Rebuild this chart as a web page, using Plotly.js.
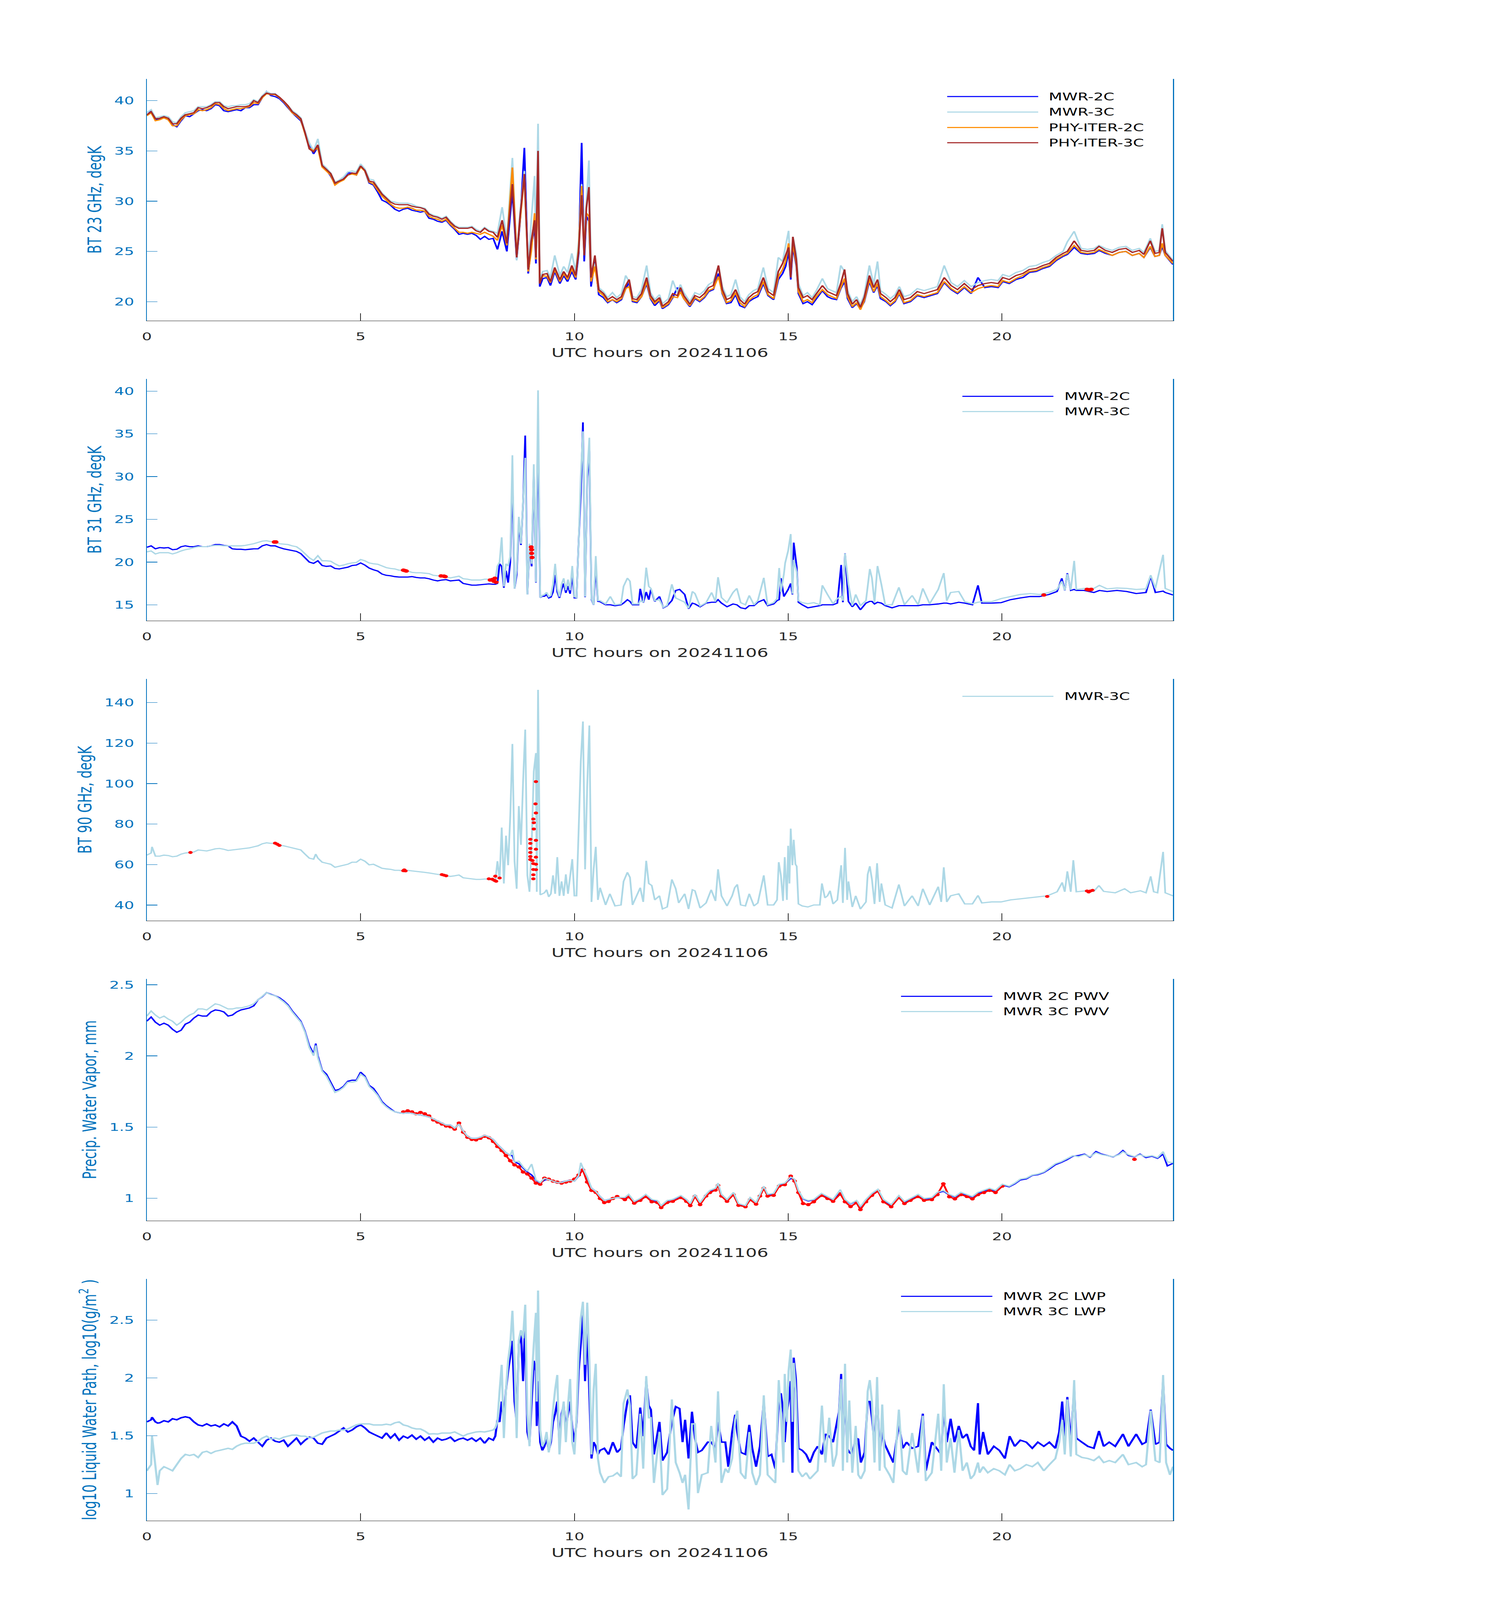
<!DOCTYPE html>
<html>
<head>
<meta charset="utf-8">
<script src="https://cdn.plot.ly/plotly-3.0.1.min.js"></script>
<style>
  html, body { margin: 0; padding: 0; background: #fff; overflow: hidden; }
  /* the browser screen is only 4096px tall, so the 3825x6000 figure is fitted to it vertically */
  #fig { width: 3825px; height: 6000px; transform-origin: 0 0; }
</style>
</head>
<body>
<div id="fig"></div>
<script>
// MWR comparison for 20241106: BT 23/31/90 GHz, PWV and LWP.

// ---- Panel 1: BT 23 GHz ----
const t1 = [
  0,0.1,0.2,0.3,0.4,0.5,0.6,0.7,0.8,0.9,
  1,1.1,1.2,1.3,1.4,1.5,1.6,1.7,1.8,1.9,
  2,2.1,2.2,2.3,2.4,2.5,2.6,2.7,2.8,2.9,
  3,3.1,3.2,3.3,3.4,3.5,3.6,3.7,3.8,3.9,
  4,4.1,4.2,4.3,4.4,4.5,4.6,4.7,4.8,4.9,
  5,5.1,5.2,5.3,5.4,5.5,5.6,5.7,5.8,5.9,
  6,6.1,6.2,6.3,6.4,6.5,6.6,6.7,6.8,6.9,
  7,7.1,7.2,7.3,7.4,7.5,7.6,7.7,7.8,7.9,
  8,8.1,8.2,
  8.31,8.42,8.55,8.65,8.73,8.83,8.92,8.99,9.07,9.1,
  9.15,9.19,9.26,9.36,9.44,9.54,9.66,9.75,9.84,9.94,
  10.03,10.1,10.17,10.23,10.28,10.34,10.39,10.48,10.57,10.68,
  10.78,10.89,10.99,11.1,11.2,11.28,11.36,11.46,11.57,11.69,
  11.78,11.88,11.99,12.06,12.2,12.3,12.41,12.48,12.56,12.7,
  12.82,12.93,13.04,13.14,13.25,13.37,13.46,13.56,13.66,13.77,
  13.87,13.98,14.08,14.19,14.29,14.42,14.53,14.66,14.77,14.87,
  14.94,15.01,15.06,15.11,15.19,15.24,15.35,15.45,15.56,15.66,
  15.8,15.92,16.02,16.13,16.23,16.32,16.39,16.5,16.6,16.69,
  16.78,16.9,17,17.09,17.16,17.29,17.39,17.5,17.6,17.71,
  17.86,18.02,18.18,18.33,18.49,18.65,18.81,18.96,19.12,19.28,
  19.44,19.6,19.75,19.91,20.02,20.17,20.33,20.49,20.64,20.8,
  20.96,21.11,21.27,21.43,21.53,21.69,21.85,22,22.16,22.27,
  22.42,22.58,22.74,22.9,23.05,23.21,23.32,23.47,23.58,23.68,
  23.75,23.82,24
];
const mwr2c_23 = [
  38.5,39.0,38.1,38.2,38.3,38.1,37.6,37.4,38.0,38.5,
  38.4,38.7,39.0,39.1,39.0,39.2,39.6,39.5,39.0,38.9,
  39.0,39.1,39.0,39.3,39.3,39.6,39.6,40.3,40.9,40.5,
  40.4,40.2,39.8,39.3,38.8,38.4,38.0,36.9,35.6,34.7,
  35.4,33.5,33.1,32.5,31.7,31.9,32.2,32.8,32.8,32.6,
  33.6,33.0,31.8,31.6,30.9,30.1,29.9,29.6,29.2,29.0,
  29.2,29.3,29.1,29.0,28.9,29.0,28.3,28.2,28.0,27.9,
  28.1,27.6,27.2,26.7,26.8,26.7,26.8,26.6,26.2,26.5,
  26.2,26.3,25.2,
  27.0,25.0,31.0,24.2,28.0,35.3,22.8,25.5,27.5,23.8,
  34.0,21.5,22.3,22.4,21.6,23.0,21.8,22.6,22.0,23.0,
  22.2,24.8,35.8,24.0,28.5,28.0,21.5,24.2,20.7,20.4,
  19.9,20.2,19.9,20.2,21.3,21.9,20.0,19.9,20.5,21.8,
  20.3,19.6,20.1,19.3,19.7,20.4,21.4,21.0,20.3,19.5,
  20.3,20.0,20.4,21.0,21.2,22.8,20.8,19.8,19.9,20.7,
  19.6,19.4,20.0,20.3,20.5,21.8,20.6,20.2,22.2,22.8,
  23.5,25.0,22.2,25.5,23.6,20.8,19.8,20.0,19.7,20.3,
  21.1,20.5,20.3,20.2,21.3,22.0,20.3,19.4,19.8,19.3,
  20.0,22.0,20.9,21.6,20.3,20.0,19.6,20.0,20.8,19.8,
  20.0,20.6,20.4,20.6,20.8,21.9,21.2,20.8,21.4,20.8,
  22.4,21.4,21.5,21.4,22.0,21.8,22.2,22.4,22.9,23.0,
  23.3,23.5,24.1,24.5,24.7,25.4,24.8,24.7,24.8,25.1,
  24.8,24.6,24.9,25.0,24.6,24.8,24.4,25.4,24.5,24.6,
  25.5,24.6,23.7
];
const mwr3c_23 = [
  38.8,39.1,38.3,38.4,38.5,38.4,37.9,37.8,38.4,38.8,
  38.9,39.0,39.4,39.4,39.4,39.6,39.9,39.9,39.5,39.4,
  39.5,39.5,39.6,39.6,39.7,40.1,39.9,40.5,40.9,40.7,
  40.7,40.3,39.9,39.5,39.0,38.7,38.3,36.9,35.8,35.0,
  36.2,33.7,33.3,32.8,31.9,32.1,32.4,32.9,33.0,32.9,
  33.7,33.2,32.2,32.1,31.4,30.8,30.4,30.0,29.9,29.8,
  29.8,29.8,29.7,29.5,29.4,29.3,28.8,28.6,28.5,28.3,
  28.5,28.0,27.6,27.4,27.4,27.4,27.5,27.2,27.0,27.4,
  27.1,27.0,26.8,
  29.4,26.2,34.3,24.1,28.9,33.0,23.4,28.0,32.5,24.8,
  37.7,22.2,23.0,23.1,22.4,24.6,22.6,23.5,22.9,24.8,
  23.0,26.0,31.7,25.0,29.8,34.05,22.6,23.8,21.4,21.0,
  20.4,20.9,20.4,20.8,22.6,22.0,20.5,20.4,21.2,23.6,
  20.9,20.2,20.7,19.8,20.3,22.1,20.9,21.7,20.9,20.0,
  20.9,20.7,21.1,21.7,22.0,23.5,21.5,20.5,20.7,22.2,
  20.5,20.0,20.7,21.1,21.3,23.4,21.3,20.9,24.4,24.0,
  25.6,27.05,23.0,26.45,24.8,21.8,20.6,20.9,20.4,21.1,
  22.3,21.3,21.1,20.9,23.6,23.0,21.1,20.0,20.5,19.7,
  20.7,23.6,21.7,24.0,21.1,20.7,20.3,20.7,21.5,20.5,
  20.7,21.3,21.1,21.3,21.5,23.6,21.9,21.5,22.1,21.5,
  21.9,22.1,22.2,22.1,22.7,22.5,22.9,23.1,23.5,23.6,
  23.9,24.1,24.6,25.0,25.95,27.0,25.3,25.2,25.3,25.6,
  25.3,25.1,25.4,25.5,25.1,25.3,24.9,26.3,25.0,25.1,
  27.7,25.1,24.1
];
const phy2c_23 = [
  38.5,38.8,38.0,38.1,38.3,38.1,37.5,37.5,38.1,38.5,
  38.6,38.7,39.1,39.0,39.1,39.3,39.7,39.6,39.2,39.0,
  39.1,39.2,39.2,39.3,39.4,39.8,39.7,40.3,40.7,40.6,
  40.6,40.3,39.9,39.4,38.8,38.5,38.1,36.7,35.3,35.0,
  35.3,33.4,33.0,32.6,31.6,31.9,32.1,32.6,32.7,32.6,
  33.4,33.0,31.9,31.7,31.1,30.5,30.1,29.7,29.4,29.3,
  29.3,29.4,29.3,29.1,29.1,29.0,28.5,28.3,28.2,28.0,
  28.2,27.7,27.3,26.9,26.9,26.8,26.9,26.8,26.7,26.9,
  26.7,26.5,26.1,
  27.6,25.6,33.35,24.6,28.2,32.5,23.0,25.0,28.8,24.2,
  32.0,21.9,22.6,22.5,21.9,23.2,22.0,22.8,22.2,23.3,
  22.4,25.3,31.5,24.9,28.8,28.5,22.0,23.5,21.0,20.6,
  20.0,20.2,20.0,20.3,21.3,21.5,20.1,20.0,20.5,22.0,
  20.4,19.8,20.2,19.4,19.8,20.5,20.4,21.0,20.3,19.6,
  20.4,20.1,20.5,21.1,21.3,22.5,20.9,19.9,20.1,20.9,
  19.9,19.5,20.1,20.5,20.7,22.0,20.7,20.3,22.5,23.2,
  24.0,25.8,22.8,25.8,23.8,21.0,20.0,20.2,19.9,20.5,
  21.2,20.7,20.5,20.3,21.4,22.3,20.5,19.5,19.9,19.2,
  20.1,22.2,21.0,21.8,20.5,20.1,19.7,20.1,20.9,19.9,
  20.1,20.7,20.5,20.7,20.9,22.0,21.3,20.9,21.5,20.9,
  21.3,21.5,21.6,21.5,22.1,21.9,22.3,22.6,23.0,23.1,
  23.4,23.6,24.2,24.6,24.8,25.6,24.9,24.8,24.9,25.2,
  24.9,24.6,24.9,25.0,24.6,24.8,24.4,25.5,24.5,24.6,
  25.8,24.6,23.8
];
const phy3c_23 = [
  38.6,38.9,38.2,38.25,38.4,38.25,37.7,37.7,38.25,38.6,
  38.7,38.8,39.3,39.2,39.3,39.5,39.8,39.8,39.4,39.2,
  39.3,39.4,39.4,39.4,39.5,40.0,39.8,40.4,40.75,40.65,
  40.65,40.35,39.95,39.5,38.9,38.6,38.2,36.8,35.2,34.9,
  35.6,33.55,33.15,32.75,31.8,32.0,32.2,32.6,32.8,32.75,
  33.5,33.05,32.0,31.9,31.3,30.7,30.3,29.9,29.7,29.65,
  29.65,29.65,29.5,29.4,29.35,29.2,28.7,28.5,28.4,28.2,
  28.4,27.9,27.5,27.3,27.3,27.3,27.4,27.05,26.9,27.3,
  27.0,26.9,26.4,
  28.1,25.8,31.7,24.4,28.5,32.7,23.2,26.0,28.1,24.4,
  35.0,21.8,22.7,22.8,22.0,23.4,22.2,23.0,22.4,23.6,
  22.6,25.0,30.6,24.6,29.3,31.4,22.4,24.6,21.2,20.8,
  20.2,20.5,20.2,20.5,21.6,22.2,20.3,20.2,20.8,22.4,
  20.6,20.0,20.4,19.55,20.0,20.8,20.6,21.4,20.6,19.75,
  20.6,20.4,20.8,21.4,21.6,23.6,21.2,20.2,20.4,21.2,
  20.2,19.75,20.4,20.8,21.0,22.4,21.0,20.6,23.0,23.8,
  24.6,25.4,22.4,26.45,24.2,21.4,20.4,20.6,20.2,20.8,
  21.6,21.0,20.8,20.6,21.8,23.2,20.8,19.75,20.2,19.45,
  20.4,22.6,21.4,22.2,20.8,20.4,20.0,20.4,21.2,20.2,
  20.4,21.0,20.8,21.0,21.2,22.4,21.6,21.2,21.8,21.2,
  21.6,21.8,21.9,21.8,22.4,22.2,22.6,22.8,23.2,23.3,
  23.6,23.8,24.4,24.8,25.0,26.05,25.1,25.0,25.1,25.5,
  25.1,24.9,25.2,25.3,24.9,25.1,24.7,26.05,24.8,24.9,
  27.3,24.9,24.0
];

// ---- Panel 2: BT 31 GHz ----
const t2 = [
  0,0.1,0.2,0.3,0.4,0.5,0.6,0.7,0.8,0.9,
  1,1.1,1.2,1.3,1.4,1.5,1.6,1.7,1.8,1.9,
  2,2.1,2.2,2.3,2.4,2.5,2.6,2.7,2.8,2.9,
  3,3.1,3.2,3.3,3.4,3.5,3.6,3.7,3.8,3.9,
  4,4.1,4.2,4.3,4.4,4.5,4.6,4.7,4.8,4.9,
  5,5.1,5.2,5.3,5.4,5.5,5.6,5.7,5.8,5.9,
  6,6.1,6.2,6.3,6.4,6.5,6.6,6.7,6.8,6.9,
  7,7.1,7.2,7.3,7.4,7.5,7.6,7.7,7.8,7.9,
  8,8.1,
  8.15,8.2,8.25,8.3,8.35,8.4,8.45,8.5,8.55,8.6,
  8.65,8.7,8.75,8.8,8.85,8.9,8.95,9,9.05,9.1,
  9.15,9.2,9.25,9.3,9.35,9.4,9.45,9.5,9.55,9.6,
  9.65,9.7,9.75,9.8,9.85,9.9,9.95,10,10.05,10.1,
  10.15,10.2,10.25,10.3,10.35,10.4,10.45,10.5,10.55,
  10.6,10.73,10.84,10.95,11.09,11.15,11.24,11.3,11.36,11.5,
  11.54,11.61,11.68,11.74,11.79,11.88,11.99,12.08,12.17,12.28,
  12.37,12.46,12.58,12.67,12.76,12.82,12.94,13.08,13.21,13.3,
  13.36,13.44,13.57,13.71,13.8,13.89,14,14.09,14.2,14.29,
  14.43,14.52,14.66,14.74,14.79,14.83,14.9,14.93,15,15.06,
  15.1,15.13,15.2,15.24,15.33,15.46,15.6,15.74,15.8,15.92,
  16.05,16.15,16.24,16.28,16.33,16.41,16.5,16.58,16.69,16.82,
  16.91,16.96,17.02,17.09,17.18,17.27,17.43,17.59,17.72,17.9,
  18.04,18.15,18.31,18.51,18.64,18.71,18.8,18.99,19.13,19.31,
  19.44,19.53,19.76,19.98,20.2,20.43,20.66,20.88,21.1,21.29,
  21.4,21.47,21.53,21.61,21.69,21.74,21.92,22.15,22.28,22.46,
  22.69,22.92,23.14,23.37,23.48,23.59,23.77,23.82,24
];
const mwr2c_31 = [
  21.73,21.9,21.55,21.7,21.65,21.7,21.45,21.5,21.8,21.9,
  21.8,21.8,21.9,21.8,21.8,21.9,22.05,22.05,21.95,21.9,
  21.55,21.5,21.5,21.45,21.5,21.55,21.55,21.9,22.05,21.9,
  21.9,21.7,21.55,21.45,21.35,21.25,21.0,20.5,20.0,19.85,
  20.15,19.6,19.5,19.55,19.25,19.2,19.3,19.4,19.6,19.65,
  19.9,19.65,19.3,19.1,18.95,18.6,18.45,18.4,18.3,18.25,
  18.25,18.25,18.3,18.2,18.15,18.15,18.05,17.9,17.8,17.9,
  17.95,17.8,17.85,17.9,17.5,17.4,17.3,17.3,17.35,17.4,
  17.45,17.4,
  17.4,17.5,19.8,19.5,17.0,19.0,17.6,20.0,30.0,16.9,
  18.5,24.5,22.0,27.0,34.8,16.2,21.8,19.5,30.5,17.6,
  36.0,15.85,16.0,16.0,16.2,15.8,15.9,16.5,18.5,16.5,
  15.8,16.8,17.5,16.4,17.2,16.3,18.5,15.8,15.8,22.5,
  28.0,36.35,15.9,29.8,33.0,15.6,15.0,19.5,15.4,
  15.37,15.0,15.0,14.89,15.0,15.2,15.6,15.4,15.0,15.0,
  16.87,15.25,16.5,15.6,16.8,15.4,15.97,14.65,14.89,15.5,
  16.68,16.8,16.21,14.54,15.2,15.1,14.77,15.2,15.3,15.3,
  15.6,15.2,14.77,15.1,15.0,14.65,14.54,14.9,14.9,15.3,
  15.6,14.9,15.1,15.5,15.6,18.12,15.97,16.2,16.8,17.5,
  16.21,22.28,19.42,15.3,15.0,14.65,14.77,14.9,15.0,15.0,
  15.0,15.2,19.66,15.3,21.02,15.4,14.77,15.2,14.42,15.2,
  15.4,15.4,15.1,15.3,15.2,14.9,14.65,14.9,14.9,14.9,
  14.9,15.0,15.0,15.1,15.2,15.2,15.1,15.3,15.2,15.0,
  17.28,15.2,15.2,15.25,15.6,15.8,15.97,15.97,16.21,16.56,
  18.1,16.68,18.7,16.68,16.8,16.68,16.68,16.44,16.68,16.56,
  16.68,16.56,16.32,16.44,18.35,16.44,16.6,16.44,16.15
];
const mwr3c_31 = [
  21.2,21.3,20.95,21.1,21.1,21.1,20.95,21.1,21.3,21.45,
  21.55,21.7,21.8,21.8,21.8,21.9,21.95,21.95,21.9,21.9,
  21.9,21.9,21.9,21.95,22.05,22.15,22.3,22.45,22.5,22.4,
  22.35,22.15,22.1,22.05,21.9,21.8,21.45,20.95,20.5,20.2,
  20.75,20.15,20.15,20.1,19.8,19.55,19.65,19.8,19.9,19.95,
  20.3,20.15,19.9,19.8,19.75,19.55,19.35,19.25,19.2,19.05,
  19.05,18.95,18.8,18.75,18.75,18.7,18.65,18.45,18.4,18.35,
  18.25,18.15,18.25,18.35,18.05,18.0,17.9,17.9,17.9,18.0,
  18.0,18.0,
  17.88,19.54,20.0,22.9,17.15,19.8,19.55,20.7,32.5,16.9,
  19.05,25.3,22.15,27.4,32.2,16.2,22.15,19.8,31.45,17.65,
  40.1,15.85,16.1,16.2,16.45,15.95,16.1,17.4,19.8,16.9,
  15.95,17.4,18.1,16.7,17.95,16.7,19.55,15.95,15.85,22.4,
  30.05,35.3,15.95,30.25,34.55,15.7,15.0,20.7,15.5,
  15.49,15.1,15.97,15.0,15.1,17.16,18.12,17.76,15.1,15.1,
  15.5,15.3,19.35,17.16,16.92,15.49,15.6,14.7,14.95,17.4,
  15.8,15.6,15.3,14.6,16.56,16.32,14.85,15.25,16.44,15.37,
  18.23,15.85,15.25,16.44,16.92,15.25,15.0,16.09,15.0,15.49,
  18.16,15.0,15.25,15.73,19.31,16.5,18.59,19.9,21.33,23.28,
  16.3,20.26,18.83,15.49,15.25,15.13,15.25,15.01,17.28,16.21,
  15.13,15.73,16.0,15.49,21.0,17.4,14.9,16.21,14.9,15.49,
  19.19,18.12,15.25,19.54,17.4,15.01,15.0,17.04,15.01,16.09,
  15.01,16.92,15.13,16.8,18.71,15.49,16.44,16.56,15.37,15.13,
  15.3,15.37,15.37,15.73,15.97,16.21,16.32,16.21,16.44,16.8,
  17.76,16.7,18.59,16.75,20.14,16.8,16.92,16.92,17.28,16.87,
  16.97,16.92,16.8,16.87,18.47,16.92,20.85,16.92,16.55
];
const flag31_t = [2.98,3.02,6.0,6.04,6.07,6.88,6.95,6.98,8.03,8.08,8.12,8.14,8.17,8.99,9.0,9.0,9.01,20.98,21.99,22.04,22.09];
const flag31_v = [22.35,22.35,19.05,19.0,18.95,18.38,18.35,18.3,17.9,17.95,17.75,18.1,17.65,21.76,21.45,21.02,20.54,16.15,16.8,16.75,16.8];

// ---- Panel 3: BT 90 GHz ----
const t3 = [
  0,0.1,0.12,0.2,0.3,0.4,0.5,0.6,0.7,0.8,0.9,
  1,1.1,1.2,1.3,1.4,1.5,1.6,1.7,1.8,1.9,
  2,2.1,2.2,2.3,2.4,2.5,2.6,2.7,2.8,2.9,
  3,3.1,3.2,3.3,3.4,3.5,3.6,3.7,3.8,3.9,3.95,
  4,4.1,4.2,4.3,4.4,4.5,4.6,4.7,4.8,4.9,
  5,5.1,5.2,5.3,5.4,5.5,5.6,5.7,5.8,5.9,
  6,6.1,6.2,6.3,6.4,6.5,6.6,6.7,6.8,6.9,
  7,7.1,7.2,7.3,7.4,7.5,7.6,7.7,7.8,7.9,
  8,8.1,
  8.15,8.2,8.25,8.3,8.35,8.4,8.45,8.5,8.55,8.6,
  8.65,8.7,8.75,8.8,8.85,8.9,8.95,9,9.05,9.1,
  9.12,
  9.15,9.2,9.25,9.3,9.35,9.4,9.45,9.5,9.55,9.6,
  9.65,9.7,9.75,9.8,9.85,9.9,9.95,10,10.05,10.1,
  10.15,10.2,10.25,10.3,10.35,10.4,10.45,10.5,10.55,
  10.6,10.73,10.83,10.95,11.09,11.15,11.24,11.3,11.36,11.54,
  11.61,11.68,11.74,11.81,11.88,11.99,12.06,12.17,12.28,12.37,
  12.44,12.58,12.67,12.76,12.82,12.94,13.08,13.2,13.3,13.36,
  13.44,13.57,13.69,13.75,13.81,13.89,14,14.09,14.2,14.29,
  14.43,14.52,14.66,14.74,14.78,14.83,14.88,14.92,14.97,15,
  15.03,15.06,15.1,15.13,15.17,15.2,15.24,15.33,15.46,15.6,
  15.74,15.79,15.86,15.92,15.98,16.05,16.15,16.24,16.28,16.33,
  16.38,16.41,16.5,16.58,16.69,16.82,16.86,16.91,16.96,17.02,
  17.08,17.14,17.18,17.27,17.43,17.59,17.72,17.9,18.04,18.15,
  18.31,18.51,18.58,18.64,18.71,18.8,18.99,19.13,19.31,19.44,
  19.53,19.76,19.98,20.2,20.43,20.66,20.88,21.06,21.29,21.41,
  21.47,21.53,21.61,21.67,21.74,21.97,22.15,22.27,22.38,22.65,
  22.87,23.01,23.24,23.37,23.48,23.55,23.64,23.77,23.82,24
];
const mwr3c_90 = [
  64.7,65.75,68.8,64.2,64.2,64.7,64.5,63.9,64.2,65.2,65.75,
  66.0,66.25,67.25,67.0,66.75,67.25,67.8,68.0,67.6,67.0,
  67.25,67.6,67.8,68.0,68.3,68.8,69.3,70.3,70.8,70.5,
  70.5,69.6,69.3,68.8,68.3,67.8,67.25,65.2,63.2,62.7,65.2,
  63.2,61.2,60.7,60.2,58.7,59.2,59.7,60.2,61.2,61.2,
  62.7,61.7,59.9,60.2,59.2,58.2,57.9,57.7,57.2,57.2,
  56.9,57.2,56.9,56.7,56.5,56.2,55.9,55.5,55.2,54.9,
  54.5,54.2,54.5,54.9,53.5,53.2,52.9,52.7,52.7,52.9,
  52.9,52.2,
  51.9,61.7,52.7,78.3,50.7,74.3,59.7,83.9,119.6,61.7,
  48.1,88.9,69.8,101.0,126.7,54.7,46.6,69.8,106.0,115.1,
  46.6,
  146.3,45.1,45.6,46.1,47.6,44.1,45.6,54.7,45.6,63.7,
  44.6,51.7,44.6,55.2,45.6,53.7,62.7,44.6,44.6,77.3,
  111.1,130.7,57.7,99.0,128.7,41.6,57.7,68.8,42.6,
  48.6,40.1,45.6,39.6,40.1,51.7,56.2,53.7,40.1,48.6,
  41.6,61.9,50.7,49.7,42.6,44.6,38.1,39.1,52.7,48.1,
  41.1,45.6,38.1,47.6,47.1,38.6,41.1,47.6,42.1,57.7,
  44.6,39.6,44.6,48.6,50.2,40.1,39.6,45.6,39.6,41.1,
  54.7,40.1,40.1,42.6,61.2,54.7,42.1,63.7,42.6,69.3,
  50.7,77.8,59.7,72.3,60.2,59.2,40.6,39.6,39.1,40.1,
  40.1,50.7,43.6,44.6,47.1,40.6,42.6,59.7,41.1,68.3,
  42.6,51.7,39.1,44.6,38.1,41.6,55.2,59.2,52.7,40.6,
  60.7,41.6,50.7,40.1,38.6,50.2,39.6,44.6,39.6,48.1,
  40.1,49.1,41.6,58.7,41.6,44.6,45.6,40.6,40.6,44.8,
  41.1,41.6,41.6,42.6,43.1,43.6,44.1,44.6,46.6,51.2,
  46.6,56.7,46.6,62.2,46.6,47.1,46.8,49.7,46.8,46.1,
  48.1,46.1,47.1,46.1,54.2,46.6,46.1,66.3,46.1,44.6
];
const flag90_t = [1.02,3.0,3.05,3.1,6.0,6.02,6.05,6.9,6.95,7.0,8.0,8.08,8.13,8.17,8.15,8.25,
  8.97,8.97,8.97,8.97,8.97,8.97,9.02,9.04,9.04,9.04,9.04,9.1,9.09,9.1,9.04,9.05,9.05,9.1,9.1,9.1,9.1,9.1,
  21.06,21.99,22.03,22.07,22.12];
const flag90_v = [66.0,70.6,70.1,69.5,57.0,57.4,56.9,55.1,54.8,54.5,53.0,52.8,52.2,51.8,54.3,53.4,
  72.5,70.5,68.0,66.0,64.0,62.5,62.0,60.5,57.6,55.0,53.0,101.0,90.0,85.5,82.5,80.7,77.6,72.0,67.6,63.7,60.2,57.5,
  44.3,47.0,46.5,47.0,47.3];

// ---- Panel 4: precipitable water vapour ----
const t4 = [
  0,0.1,0.2,0.3,0.4,0.5,0.6,0.7,0.8,0.9,
  1,1.1,1.2,1.3,1.4,1.5,1.6,1.7,1.8,1.9,
  2,2.1,2.2,2.3,2.4,2.5,2.6,2.7,2.8,2.9,
  3,3.1,3.2,3.3,3.4,3.5,3.6,3.7,3.8,3.9,3.95,
  4,4.1,4.2,4.3,4.4,4.5,4.6,4.7,4.8,4.9,
  5,5.1,5.2,5.3,5.4,5.5,5.6,5.7,5.8,5.9,
  6,6.1,6.2,6.3,6.4,6.5,6.6,6.7,6.8,6.9,
  7,7.1,7.2,7.3,7.4,7.5,7.6,7.7,7.8,7.9,
  8,8.1,8.2,8.3,8.4,8.5,8.55,
  8.6,8.7,8.8,8.9,
  9,9.1,9.2,9.3,9.4,9.5,9.6,9.7,9.8,9.9,
  10,10.1,10.15,
  10.2,10.3,10.4,10.5,10.6,10.7,10.8,10.9,11,
  11.18,11.27,11.4,11.54,11.67,11.81,11.94,12.03,12.17,12.3,
  12.49,12.62,12.71,12.82,12.94,13.08,13.17,13.3,13.36,13.44,
  13.57,13.72,13.84,14,14.11,14.25,14.34,14.43,14.52,14.66,
  14.79,14.92,15.06,15.15,15.24,15.35,15.47,15.6,15.78,15.92,
  16.05,16.22,16.33,16.46,16.6,16.69,16.82,16.96,17.1,17.23,
  17.41,17.59,17.72,17.86,18.04,18.18,18.36,18.49,18.63,18.77,
  18.9,19.04,19.18,19.31,19.44,19.58,19.71,19.85,20.01,20.17,
  20.3,20.43,20.57,20.71,20.84,20.98,21.11,21.25,21.38,21.52,
  21.66,21.79,21.93,22.06,22.2,22.33,22.47,22.6,22.74,22.83,
  22.96,23.1,23.23,23.37,23.51,23.64,23.77,23.87,24
];
const pwv2c = [
  2.244,2.273,2.237,2.216,2.23,2.216,2.187,2.166,2.18,2.223,
  2.237,2.266,2.287,2.28,2.28,2.309,2.323,2.319,2.309,2.28,
  2.287,2.309,2.323,2.33,2.337,2.352,2.395,2.416,2.445,2.433,
  2.423,2.409,2.387,2.359,2.316,2.28,2.244,2.173,2.072,2.015,2.087,
  2.001,1.90,1.872,1.815,1.757,1.765,1.786,1.822,1.829,1.829,
  1.886,1.858,1.793,1.772,1.729,1.679,1.65,1.628,1.607,1.60,
  1.597,1.60,1.597,1.588,1.585,1.578,1.571,1.557,1.543,1.528,
  1.514,1.514,1.492,1.521,1.471,1.435,1.42,1.42,1.428,1.442,
  1.431,1.413,1.378,1.349,1.32,1.30,1.30,
  1.256,1.242,1.213,1.184,
  1.163,1.127,1.106,1.127,1.134,1.12,1.106,1.113,1.12,1.127,
  1.12,1.156,1.18,
  1.213,1.141,1.07,1.048,1.012,0.984,0.991,0.998,1.005,
  1.0,1.02,0.975,0.995,1.02,0.985,0.98,0.945,0.98,0.99,
  1.015,0.99,0.96,1.025,0.965,1.025,1.05,1.065,1.1,1.02,
  0.985,1.035,0.955,0.945,1.0,0.965,1.02,1.08,1.022,1.03,
  1.092,1.1,1.14,1.128,1.05,0.995,0.98,0.988,1.03,1.008,
  0.988,1.04,0.988,0.96,0.98,0.938,0.988,1.03,1.058,0.988,
  0.95,1.015,0.973,0.994,1.022,0.994,1.0,1.035,1.05,1.022,
  1.008,1.035,1.022,1.008,1.035,1.05,1.065,1.05,1.092,1.08,
  1.1,1.128,1.135,1.16,1.165,1.18,1.205,1.235,1.25,1.27,
  1.295,1.3,1.31,1.288,1.328,1.31,1.3,1.29,1.31,1.335,
  1.3,1.29,1.31,1.285,1.295,1.28,1.31,1.227,1.245
];
const pwv3c = [
  2.28,2.316,2.287,2.266,2.28,2.259,2.244,2.216,2.237,2.266,
  2.287,2.30,2.33,2.33,2.323,2.345,2.366,2.359,2.345,2.33,
  2.33,2.337,2.337,2.345,2.352,2.366,2.395,2.419,2.445,2.43,
  2.423,2.402,2.38,2.352,2.309,2.273,2.237,2.166,2.058,2.001,2.073,
  1.987,1.893,1.858,1.80,1.743,1.757,1.779,1.815,1.815,1.822,
  1.872,1.85,1.786,1.757,1.722,1.671,1.643,1.621,1.607,1.60,
  1.597,1.60,1.597,1.588,1.585,1.578,1.571,1.557,1.543,1.528,
  1.514,1.514,1.492,1.521,1.471,1.435,1.42,1.42,1.428,1.442,
  1.431,1.413,1.378,1.349,1.32,1.30,1.34,
  1.256,1.26,1.22,1.19,
  1.24,1.13,1.11,1.14,1.13,1.12,1.11,1.11,1.12,1.125,
  1.12,1.16,1.249,
  1.213,1.15,1.07,1.048,1.012,0.984,0.991,0.998,1.005,
  1.005,1.027,0.977,0.998,1.027,0.991,0.984,0.948,0.984,0.991,
  1.019,0.991,0.962,1.027,0.969,1.027,1.055,1.07,1.106,1.027,
  0.991,1.041,0.962,0.948,1.005,0.969,1.027,1.084,1.027,1.034,
  1.098,1.106,1.148,1.134,1.055,0.998,0.984,0.991,1.034,1.012,
  0.991,1.06,0.991,0.962,0.984,0.941,0.991,1.034,1.063,0.991,
  0.955,1.019,0.977,0.998,1.027,0.998,1.005,1.041,1.055,1.027,
  1.012,1.041,1.027,1.012,1.041,1.055,1.07,1.055,1.098,1.084,
  1.106,1.134,1.141,1.163,1.17,1.184,1.213,1.242,1.256,1.277,
  1.299,1.292,1.306,1.292,1.32,1.306,1.299,1.292,1.306,1.327,
  1.306,1.292,1.306,1.292,1.299,1.285,1.327,1.256,1.249
];
const flagPwv_t = [
  6,6.1,6.2,6.3,6.4,6.5,6.6,6.7,6.8,6.9,
  7,7.1,7.2,7.3,7.4,7.5,7.6,7.7,7.8,7.9,
  8,8.1,8.2,8.3,8.4,8.5,8.6,8.7,8.8,8.9,
  9,9.1,9.2,9.3,9.4,9.5,9.6,9.7,9.8,9.9,
  10,10.1,10.2,10.3,10.4,10.5,10.6,10.7,10.8,10.9,11,
  11.18,11.27,11.4,11.54,11.67,11.81,11.94,12.03,12.17,12.3,
  12.49,12.62,12.71,12.82,12.94,13.08,13.17,13.3,13.36,13.44,
  13.57,13.72,13.84,14,14.11,14.25,14.34,14.43,14.52,14.66,
  14.79,14.92,15.06,15.15,15.24,15.35,15.47,15.6,15.78,15.92,
  16.05,16.22,16.33,16.46,16.6,16.69,16.82,16.96,17.1,17.23,
  17.41,17.59,17.72,17.86,18.04,18.18,18.36,18.49,18.63,18.77,
  18.9,19.04,19.18,19.31,19.44,19.58,19.71,19.85,20.01,
  null,23.1
];
const flagPwv_v = [
  1.607,1.614,1.607,1.593,1.603,1.593,1.578,1.55,1.535,1.521,
  1.507,1.502,1.485,1.528,1.464,1.428,1.413,1.41,1.421,1.435,
  1.425,1.399,1.363,1.335,1.299,1.263,1.234,1.22,1.184,1.17,
  1.141,1.106,1.098,1.141,1.134,1.12,1.113,1.106,1.113,1.12,
  1.134,1.163,1.198,1.113,1.055,1.041,0.998,0.969,0.977,0.998,1.012,
  0.99,1.01,0.965,0.985,1.012,0.975,0.97,0.934,0.97,0.978,
  1.005,0.978,0.948,1.013,0.955,1.015,1.04,1.057,1.09,1.015,
  0.978,1.025,0.95,0.94,0.99,0.958,1.015,1.07,1.015,1.02,
  1.085,1.095,1.155,1.12,1.04,0.962,0.955,0.975,1.02,0.998,
  0.978,1.03,0.975,0.941,0.968,0.92,0.975,1.02,1.05,0.975,
  0.94,1.005,0.962,0.985,1.012,0.985,0.99,1.025,1.101,1.01,
  0.995,1.025,1.012,0.995,1.025,1.04,1.055,1.04,1.085,
  null,1.273
];

// ---- Panel 5: log10 liquid water path ----
const t5 = [
  0,0.1,0.12,0.2,0.25,0.3,0.4,0.5,0.6,0.7,0.8,0.9,
  1,1.1,1.2,1.3,1.4,1.5,1.6,1.7,1.8,1.9,
  2,2.1,2.2,2.3,2.4,2.5,2.6,2.7,2.8,2.9,
  3,3.1,3.2,3.3,3.4,3.5,3.6,3.7,3.8,3.9,
  4,4.1,4.2,4.3,4.4,4.5,4.6,4.7,4.8,4.9,
  5,5.1,5.2,5.3,5.4,5.5,5.6,5.7,5.8,5.9,
  6,6.1,6.2,6.3,6.4,6.5,6.6,6.7,6.8,6.9,
  7,7.1,7.2,7.3,7.4,7.5,7.6,7.7,7.8,7.9,
  8,8.1,8.15,
  8.2,8.25,8.3,8.35,8.4,8.45,8.5,8.55,8.6,8.65,
  8.7,8.75,8.8,8.85,8.9,8.95,9,9.05,9.1,
  9.12,
  9.15,9.2,9.25,9.3,9.35,9.4,9.45,9.5,9.55,9.6,
  9.65,9.7,9.75,9.8,9.85,9.9,9.95,10,10.05,10.1,
  10.15,10.2,10.25,10.3,10.35,10.4,10.45,10.5,10.55,10.6,
  10.7,10.8,10.9,11,
  11.09,11.15,11.24,11.3,11.36,11.45,11.54,11.61,11.68,11.74,
  11.79,11.86,11.99,12.06,12.17,12.28,12.37,12.46,12.53,12.59,
  12.67,12.75,12.82,12.89,12.98,13.12,13.2,13.3,13.36,13.44,
  13.53,13.6,13.69,13.76,13.81,13.89,14,14.09,14.16,14.25,
  14.34,14.43,14.52,14.61,14.7,14.78,14.83,14.89,14.92,14.97,
  15.01,15.06,15.1,15.13,15.18,15.24,15.33,15.42,15.51,15.6,
  15.69,15.79,15.87,15.96,16.05,16.13,16.19,16.24,16.28,16.33,
  16.38,16.43,16.5,16.58,16.64,16.7,16.79,16.86,16.91,16.96,
  17.02,17.08,17.14,17.2,17.26,17.37,17.46,17.59,17.68,17.77,
  17.9,18.04,18.15,18.22,18.36,18.51,18.58,18.64,18.71,18.8,
  18.89,18.99,19.08,19.18,19.27,19.35,19.44,19.48,19.56,19.67,
  19.81,19.94,20.07,20.18,20.3,20.43,20.57,20.71,20.84,20.98,
  21.11,21.25,21.34,21.41,21.47,21.53,21.61,21.69,21.74,21.87,
  22.01,22.15,22.27,22.38,22.51,22.65,22.83,22.96,23.14,23.28,
  23.37,23.48,23.59,23.69,23.77,23.84,23.93,24
];
const lwp2c = [
  1.62,1.638,1.66,1.62,1.61,1.612,1.63,1.62,1.647,1.638,1.656,1.664,
  1.656,1.62,1.594,1.585,1.603,1.585,1.594,1.577,1.603,1.585,
  1.62,1.585,1.497,1.48,1.453,1.48,1.445,1.41,1.462,1.48,
  1.453,1.445,1.462,1.41,1.445,1.48,1.427,1.462,1.488,1.48,
  1.436,1.427,1.48,1.497,1.515,1.541,1.568,1.533,1.55,1.577,
  1.594,1.568,1.533,1.515,1.497,1.48,1.524,1.48,1.515,1.462,
  1.497,1.48,1.506,1.471,1.497,1.462,1.488,1.445,1.48,1.462,
  1.471,1.488,1.453,1.471,1.48,1.462,1.48,1.453,1.48,1.436,
  1.48,1.462,1.497,
  1.638,1.62,1.796,1.638,1.90,2.06,2.18,2.32,1.796,1.62,
  2.289,2.395,1.972,2.50,1.533,1.445,1.796,2.148,2.06,
  1.585,
  1.972,1.445,1.374,1.409,1.48,1.374,1.445,1.62,1.691,1.796,
  1.445,1.691,1.761,1.568,1.691,1.796,1.568,1.445,1.62,2.06,
  2.30,2.588,1.972,2.465,1.867,1.304,1.445,1.409,1.339,1.374,
  1.392,1.339,1.445,1.357,
  1.392,1.585,1.796,1.849,1.445,1.392,1.744,1.497,1.972,1.761,
  1.726,1.339,1.62,1.286,1.357,1.62,1.752,1.735,1.445,1.638,
  1.304,1.708,1.48,1.357,1.374,1.445,1.445,1.392,1.62,1.445,
  1.445,1.233,1.533,1.682,1.533,1.357,1.339,1.594,1.392,1.233,
  1.409,1.796,1.321,1.339,1.216,1.796,1.867,1.691,1.445,1.708,
  1.796,1.972,1.181,2.175,1.99,1.392,1.374,1.339,1.269,1.357,
  1.409,1.339,1.515,1.497,1.445,1.585,1.708,2.034,1.357,1.884,
  1.392,1.357,1.339,1.48,1.471,1.269,1.357,1.796,1.796,1.656,
  1.427,1.884,1.339,1.533,1.427,1.339,1.269,1.603,1.392,1.445,
  1.392,1.409,1.691,1.198,1.445,1.374,1.339,1.744,1.445,1.647,
  1.445,1.585,1.48,1.515,1.409,1.374,1.782,1.339,1.533,1.339,
  1.409,1.374,1.304,1.497,1.409,1.462,1.445,1.392,1.445,1.409,
  1.445,1.392,1.533,1.796,1.445,1.835,1.445,1.902,1.48,1.445,
  1.409,1.392,1.541,1.409,1.445,1.409,1.515,1.409,1.515,1.427,
  1.445,1.726,1.427,1.445,1.972,1.427,1.392,1.374
];
const lwp3c = [
  1.198,1.251,1.497,1.216,1.075,1.198,1.233,1.216,1.198,1.251,1.304,1.339,
  1.33,1.339,1.313,1.357,1.366,1.348,1.366,1.374,1.383,1.392,
  1.383,1.41,1.427,1.436,1.436,1.436,1.453,1.48,1.497,1.471,
  1.48,1.471,1.488,1.497,1.506,1.506,1.497,1.497,1.48,1.488,
  1.506,1.524,1.533,1.541,1.541,1.55,1.55,1.559,1.577,1.594,
  1.603,1.603,1.603,1.594,1.594,1.594,1.60,1.594,1.612,1.62,
  1.594,1.585,1.568,1.559,1.559,1.541,1.515,1.518,1.515,1.524,
  1.524,1.524,1.533,1.515,1.497,1.515,1.524,1.533,1.536,1.533,
  1.541,1.55,1.568,
  1.62,1.884,2.113,1.48,1.90,2.148,2.289,2.58,2.148,1.48,
  2.324,2.412,2.342,2.632,1.69,1.41,1.972,2.289,2.562,
  1.796,
  2.755,1.55,1.41,1.445,1.533,1.357,1.48,1.726,1.90,2.025,
  1.339,1.656,1.796,1.445,1.761,1.99,1.445,1.339,1.656,2.219,
  2.518,2.658,2.113,2.65,2.148,1.339,1.90,2.122,1.304,1.181,
  1.093,1.146,1.154,1.181,
  1.146,1.779,1.90,1.761,1.128,1.163,1.691,1.216,2.016,1.656,
  1.656,1.093,1.533,0.989,1.04,1.814,1.269,1.181,1.093,1.163,
  0.864,1.603,1.603,1.005,1.163,1.181,1.585,1.269,1.884,1.093,
  1.216,1.181,1.304,1.638,1.717,1.181,1.128,1.533,1.181,1.075,
  1.163,1.849,1.163,1.128,1.093,1.981,1.708,1.269,2.034,1.62,
  2.06,2.245,1.62,2.13,1.867,1.198,1.146,1.181,1.128,1.163,
  1.198,1.761,1.269,1.656,1.233,1.339,1.708,1.99,1.198,2.122,
  1.269,1.805,1.181,1.585,1.163,1.128,1.198,1.884,1.981,1.796,
  1.269,2.007,1.198,1.77,1.233,1.163,1.093,1.726,1.198,1.163,
  1.524,1.181,1.673,1.11,1.181,1.691,1.198,1.946,1.269,1.48,
  1.181,1.55,1.198,1.269,1.128,1.163,1.269,1.181,1.233,1.181,
  1.216,1.198,1.163,1.251,1.198,1.216,1.251,1.233,1.269,1.198,
  1.251,1.304,1.445,1.638,1.339,1.814,1.321,1.981,1.339,1.313,
  1.304,1.286,1.321,1.269,1.286,1.269,1.339,1.251,1.269,1.233,
  1.251,1.717,1.286,1.269,2.025,1.269,1.163,1.233
];

// ---- styling ----
const FONT = "DejaVu Sans, sans-serif";
const AX_BLUE = "#0072BD";
const DARK = "#262626";
const C = { blue: "#0000FF", lightblue: "#ADD8E6", orange: "#FF8C00", brown: "#A52A2A", red: "#FF0000" };
const LW = 4.5;
const FIG_W = 3825, FIG_H = 6000;

const PANELS = [
  { dom: [0.8324, 1.0], range: [18.12, 42.16], tickvals: [20, 25, 30, 35, 40], title: "BT 23 GHz, degK" },
  { dom: [0.6243, 0.7919], range: [13.16, 41.43], tickvals: [15, 20, 25, 30, 35, 40], title: "BT 31 GHz, degK" },
  { dom: [0.4162, 0.5838], range: [32.4, 151.7], tickvals: [40, 60, 80, 100, 120, 140], title: "BT 90 GHz, degK" },
  { dom: [0.2081, 0.3757], range: [0.843, 2.541], tickvals: [1, 1.5, 2, 2.5], title: "Precip. Water Vapor, mm" },
  { dom: [0, 0.1676], range: [0.768, 2.855], tickvals: [1, 1.5, 2, 2.5], title: "log10 Liquid Water Path, log10(g/m<sup>2</sup> )" },
];

// manual legends (MATLAB-style long line samples), positions in axis-domain fractions
const LEGENDS = [
  { x0: 0.780, x1: 0.8687, tx: 0.878, rows: [0.927, 0.863, 0.799, 0.736],
    items: [["MWR-2C", C.blue], ["MWR-3C", C.lightblue], ["PHY-ITER-2C", C.orange], ["PHY-ITER-3C", C.brown]] },
  { x0: 0.7948, x1: 0.8835, tx: 0.8934, rows: [0.928, 0.865], items: [["MWR-2C", C.blue], ["MWR-3C", C.lightblue]] },
  { x0: 0.7948, x1: 0.8835, tx: 0.8934, rows: [0.928], items: [["MWR-3C", C.lightblue]] },
  { x0: 0.735, x1: 0.824, tx: 0.8337, rows: [0.928, 0.865], items: [["MWR 2C PWV", C.blue], ["MWR 3C PWV", C.lightblue]] },
  { x0: 0.735, x1: 0.824, tx: 0.8337, rows: [0.928, 0.865], items: [["MWR 2C LWP", C.blue], ["MWR 3C LWP", C.lightblue]] },
];

function ax(i) { return i === 0 ? "" : String(i + 1); }

function line(x, y, color, i, width) {
  return { type: "scatter", mode: "lines", x, y, xaxis: "x" + ax(i), yaxis: "y" + ax(i),
    line: { color, width: width || LW }, hoverinfo: "skip" };
}
function dots(x, y, i, size) {
  return { type: "scatter", mode: "markers", x, y, xaxis: "x" + ax(i), yaxis: "y" + ax(i),
    marker: { color: C.red, size: size || 12 }, hoverinfo: "skip" };
}

const traces = [
  line(t1, mwr2c_23, C.blue, 0),
  line(t1, mwr3c_23, C.lightblue, 0),
  line(t1, phy2c_23, C.orange, 0),
  line(t1, phy3c_23, C.brown, 0),

  line(t2, mwr2c_31, C.blue, 1),
  line(t2, mwr3c_31, C.lightblue, 1),
  dots(flag31_t, flag31_v, 1, 13),

  line(t3, mwr3c_90, C.lightblue, 2),
  dots(flag90_t, flag90_v, 2, 11),

  line(t4, pwv2c, C.blue, 3),
  { ...line(flagPwv_t, flagPwv_v, C.red, 3, 5), mode: "lines+markers", marker: { color: C.red, size: 12 } },
  line(t4, pwv3c, C.lightblue, 3),

  // the LWP traces are very noisy in the original, drawn a bit heavier
  line(t5, lwp2c, C.blue, 4, 5.5),
  line(t5, lwp3c, C.lightblue, 4, 5.5),
];

const layout = {
  width: FIG_W, height: FIG_H,
  margin: { l: 376, r: 822, t: 296, b: 298 },
  paper_bgcolor: "#ffffff", plot_bgcolor: "#ffffff",
  font: { family: FONT, size: 40, color: DARK },
  showlegend: false,
  shapes: [], annotations: [],
};

PANELS.forEach((p, i) => {
  layout["xaxis" + ax(i)] = {
    domain: [0, 1], anchor: "y" + ax(i), range: [0, 24],
    tickmode: "array", tickvals: [0, 5, 10, 15, 20],
    ticks: "inside", ticklen: 27, tickwidth: 2, tickcolor: DARK,
    showline: true, linecolor: DARK, linewidth: 2.5, mirror: false,
    showgrid: false, zeroline: false,
    tickfont: { family: FONT, size: 40, color: DARK }, ticklabelstandoff: 24,
    title: { text: "UTC hours on 20241106", font: { family: FONT, size: 46, color: DARK }, standoff: 22 },
  };
  layout["yaxis" + ax(i)] = {
    domain: p.dom, anchor: "x" + ax(i), range: p.range,
    tickmode: "array", tickvals: p.tickvals, ticktext: p.tickvals.map(String),
    ticks: "inside", ticklen: 27, tickwidth: 2, tickcolor: AX_BLUE,
    showline: true, linecolor: AX_BLUE, linewidth: 2.5, mirror: true,
    showgrid: false, zeroline: false,
    tickfont: { family: FONT, size: 40, color: AX_BLUE }, ticklabelstandoff: 22,
    title: { text: p.title, font: { family: FONT, size: 48, color: AX_BLUE }, standoff: 18 },
  };

  const lg = LEGENDS[i];
  lg.items.forEach(([name, color], k) => {
    const xr = "x" + ax(i) + " domain", yr = "y" + ax(i) + " domain";
    layout.shapes.push({ type: "line", xref: xr, yref: yr, x0: lg.x0, x1: lg.x1, y0: lg.rows[k], y1: lg.rows[k],
      line: { color, width: 4 } });
    layout.annotations.push({ xref: xr, yref: yr, x: lg.tx, y: lg.rows[k], text: name, showarrow: false,
      xanchor: "left", yanchor: "middle", font: { family: FONT, size: 40, color: "#000000" } });
  });
});

// fit the full figure into the available window height
const fig = document.getElementById("fig");
const sy = Math.min(1, window.innerHeight / FIG_H);
fig.style.transform = "scale(1," + sy + ")";

Plotly.newPlot("fig", traces, layout, { staticPlot: true, displayModeBar: false });

// sanity check: x and y arrays must line up
const bad = [];
[[t1, mwr2c_23, "mwr2c_23"], [t1, mwr3c_23, "mwr3c_23"], [t1, phy2c_23, "phy2c_23"], [t1, phy3c_23, "phy3c_23"],
 [t2, mwr2c_31, "mwr2c_31"], [t2, mwr3c_31, "mwr3c_31"], [flag31_t, flag31_v, "flag31"],
 [t3, mwr3c_90, "mwr3c_90"], [flag90_t, flag90_v, "flag90"],
 [t4, pwv2c, "pwv2c"], [t4, pwv3c, "pwv3c"], [flagPwv_t, flagPwv_v, "flagPwv"],
 [t5, lwp2c, "lwp2c"], [t5, lwp3c, "lwp3c"]].forEach(([x, y, n]) => {
  if (x.length !== y.length) bad.push(n + ": " + x.length + " vs " + y.length);
});
if (bad.length) throw new Error("length mismatch " + bad.join("; "));
</script>
</body>
</html>
